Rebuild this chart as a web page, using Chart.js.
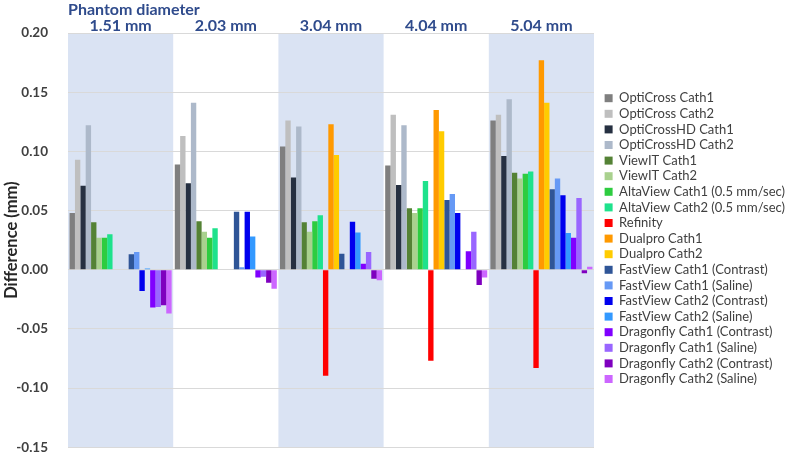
<!DOCTYPE html>
<html><head><meta charset="utf-8">
<script src="https://cdn.jsdelivr.net/npm/chart.js@4/dist/chart.umd.min.js"></script>
<style>html,body{margin:0;padding:0;background:#fff;} #wrap{width:787px;height:454px;position:relative;}</style>
</head><body><div id="wrap"><canvas id="c"></canvas></div>
<script>
const categories = ['1.51 mm', '2.03 mm', '3.04 mm', '4.04 mm', '5.04 mm'];
const yTicks = [-0.15, -0.10, -0.05, 0.00, 0.05, 0.10, 0.15, 0.20];

const opticrossCath1   = [0.048, 0.089, 0.104, 0.088, 0.126];
const opticrossCath2   = [0.093, 0.113, 0.126, 0.131, 0.131];
const opticrossHDCath1 = [0.071, 0.073, 0.078, 0.0715, 0.096];
const opticrossHDCath2 = [0.122, 0.141, 0.121, 0.122, 0.144];
const viewitCath1      = [0.040, 0.041, 0.040, 0.052, 0.082];
const viewitCath2      = [0.027, 0.032, 0.032, 0.048, 0.077];
const altaviewCath1    = [0.027, 0.027, 0.041, 0.052, 0.081];
const altaviewCath2    = [0.030, 0.035, 0.046, 0.075, 0.083];
const refinity         = [null, null, -0.0895, -0.077, -0.083];
const dualproCath1     = [null, null, 0.123, 0.135, 0.177];
const dualproCath2     = [null, null, 0.097, 0.117, 0.141];
const fastviewC1Contrast = [0.013, 0.049, 0.0135, 0.059, 0.068];
const fastviewC1Saline   = [0.015, 0.002, null, 0.064, 0.077];
const fastviewC2Contrast = [-0.018, 0.049, 0.0405, 0.048, 0.063];
const fastviewC2Saline   = [0.001, 0.028, 0.0315, null, 0.031];
const dragonflyC1Contrast = [-0.032, -0.0065, 0.005, 0.0155, 0.027];
const dragonflyC1Saline   = [-0.0315, -0.006, 0.015, 0.032, 0.0605];
const dragonflyC2Contrast = [-0.030, -0.011, -0.0076, -0.013, -0.003];
const dragonflyC2Saline   = [-0.037, -0.016, -0.009, -0.0065, 0.0025];

const seriesNames = ['OptiCross Cath1','OptiCross Cath2','OptiCrossHD Cath1','OptiCrossHD Cath2','ViewIT Cath1','ViewIT Cath2','AltaView Cath1 (0.5 mm/sec)','AltaView Cath2 (0.5 mm/sec)','Refinity','Dualpro Cath1','Dualpro Cath2','FastView Cath1 (Contrast)','FastView Cath1 (Saline)','FastView Cath2 (Contrast)','FastView Cath2 (Saline)','Dragonfly Cath1 (Contrast)','Dragonfly Cath1 (Saline)','Dragonfly Cath2 (Contrast)','Dragonfly Cath2 (Saline)'];
const seriesValues = [opticrossCath1, opticrossCath2, opticrossHDCath1, opticrossHDCath2, viewitCath1, viewitCath2, altaviewCath1, altaviewCath2, refinity, dualproCath1, dualproCath2, fastviewC1Contrast, fastviewC1Saline, fastviewC2Contrast, fastviewC2Saline, dragonflyC1Contrast, dragonflyC1Saline, dragonflyC2Contrast, dragonflyC2Saline];
const seriesColors = ['#7f7f7f','#bfbfbf','#263041','#adb9ca','#548235','#a9d18e','#2ecc40','#1ee28c','#ff0000','#ff9900','#ffcc00','#2f5597','#6699f5','#0000ee','#3399ff','#8000ff','#9966ff','#7f00bf','#cc66ff'];

const bandPlugin = {
  id: 'bands',
  afterLayout(chart) {
    if (chart.legend) { chart.legend.left += 8; chart.legend.right += 8; }
  },
  beforeDraw(chart) {
    const {ctx, chartArea, scales} = chart;
    const x = scales.x;
    const half = (x.getPixelForValue(1) - x.getPixelForValue(0)) / 2;
    ctx.save();
    ctx.fillStyle = '#dae3f3';
    categories.forEach((c, i) => {
      if (i % 2 === 0) {
        const cx = x.getPixelForValue(i);
        ctx.fillRect(cx - half, chartArea.top, half * 2, chartArea.bottom - chartArea.top);
      }
    });
    ctx.restore();
  }
};

new Chart(document.getElementById('c'), {
  type: 'bar',
  data: {
    labels: categories,
    datasets: seriesNames.map((n, i) => ({
      label: n, data: seriesValues[i], backgroundColor: seriesColors[i], borderWidth: 0,
      categoryPercentage: 0.97, barPercentage: 1.0
    }))
  },
  plugins: [bandPlugin],
  options: {
    responsive: true, maintainAspectRatio: false, animation: false,
    layout: {padding: {top: 0, left: 2, right: 0, bottom: 0}},
    plugins: {
      tooltip: {enabled: false},
      legend: {
        position: 'right',
        title: {display: true, text: ' ', font: {size: 1}, padding: {top: 0, bottom: 22}},
        labels: {boxWidth: 8, boxHeight: 8, padding: 2.6, color: '#404040', font: {family: 'Lato', size: 13}}
      }
    },
    scales: {
      x: {
        position: 'top',
        afterFit(scale) { scale.height = 33; },
        grid: {display: false}, border: {display: false},
        ticks: {color: '#2f4b8c', font: {family: 'Lato', size: 16, weight: 'bold', lineHeight: 1}, padding: -9},
        title: {display: true, text: 'Phantom diameter', align: 'start', color: '#2f4b8c', font: {family: 'Lato', size: 16, weight: 'bold'}, padding: {top: 0, bottom: 0}}
      },
      y: {
        min: -0.15, max: 0.20,
        afterBuildTicks(axis) { axis.ticks = yTicks.map(v => ({value: v})); },
        afterFit(scale) { scale.width = 66; },
        grid: {color: '#d9d9d9', drawTicks: true, tickLength: 20, tickColor: 'rgba(0,0,0,0)'}, border: {display: false},
        ticks: {color: '#404040', font: {family: 'Lato', size: 13.5, weight: 'bold', lineHeight: 1}, padding: 0, callback: v => v.toFixed(2)},
        title: {display: true, text: 'Difference (mm)', color: '#262626', font: {family: 'Lato', size: 16.5, weight: 'bold'}, padding: {top: 0, bottom: 0}}
      }
    }
  }
});
</script></body></html>
